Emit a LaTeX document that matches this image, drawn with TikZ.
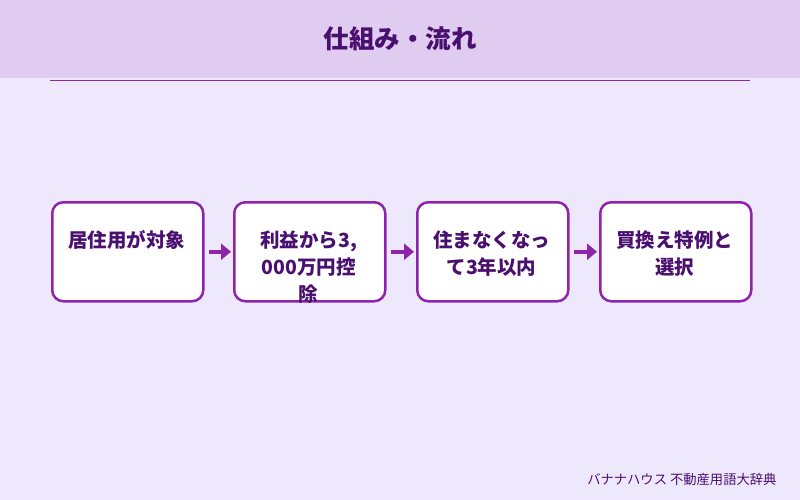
\documentclass[tikz,border=0pt]{standalone}
\usepackage{fontspec}
\newfontfamily\cjk{Noto Sans CJK JP}
\definecolor{bg}{HTML}{EEE8FC}
\definecolor{hd}{HTML}{E0CCF0}
\definecolor{pu}{HTML}{8E24AA}
\definecolor{tx}{HTML}{4A1070}
\usetikzlibrary{arrows.meta}
\begin{document}
\begin{tikzpicture}[x=1pt,y=-1pt,
 box/.style={draw=pu,line width=2.5pt,fill=white,rounded corners=11pt,minimum width=151pt,minimum height=99pt,anchor=north west},
 lab/.style={text=tx,font=\cjk\bfseries\fontsize{19.5}{27}\selectfont,align=center,anchor=center},
 arr/.style={draw=pu,line width=3.5pt,-{Triangle[length=10pt,width=16pt]}}]
\fill[bg] (0,0) rectangle (800,500);
\fill[hd] (0,0) rectangle (800,78);
\draw[pu,line width=1.5pt] (50,80.5) -- (750,80.5);
\node[text=tx,font=\cjk\bfseries\fontsize{25.5}{28}\selectfont] (title) at (400,39) {仕組み・流れ};
\node[box] (b1) at (51,201) {};
\node[box] (b2) at (233,201) {};
\node[box] (b3) at (416,201) {};
\node[box] (b4) at (599,201) {};
\node[lab] (t1) at (126.5,240) {居住用が対象};
\node[lab] (t2) at (308.5,267) {利益から3,\\000万円控\\除};
\node[lab] (t3) at (491.5,253.5) {住まなくなっ\\て3年以内};
\node[lab] (t4) at (674.5,253.5) {買換え特例と\\選択};
\draw[arr] ([xshift=4pt]b1.east) -- ([xshift=-2pt]b2.west);
\draw[arr] ([xshift=4pt]b2.east) -- ([xshift=-2pt]b3.west);
\draw[arr] ([xshift=4pt]b3.east) -- ([xshift=-2pt]b4.west);
\node[text=tx,font=\cjk\fontsize{13.3}{15}\selectfont,anchor=east] (ft) at (780,479) {バナナハウス 不動産用語大辞典};
\end{tikzpicture}
\end{document}
